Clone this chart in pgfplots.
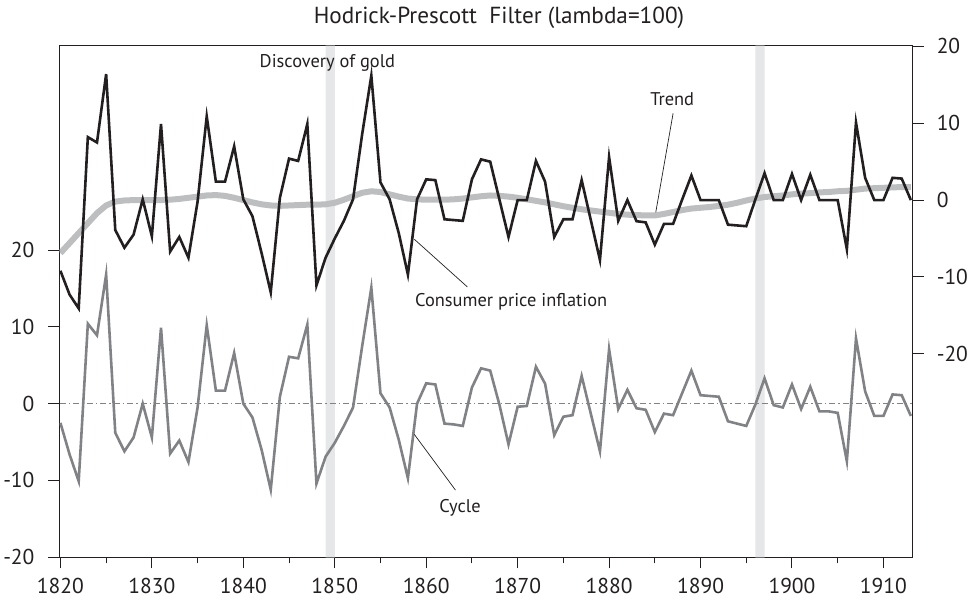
\documentclass[border=0pt]{standalone}
\usepackage{fontspec}
\setmainfont{PT Sans}
\usepackage{pgfplots}
\usepackage{pgfplotstable}
\pgfplotsset{compat=1.18}
\definecolor{bandgray}{HTML}{E6E7E8}
\definecolor{trendgray}{HTML}{BCBEC0}
\definecolor{cyclegray}{HTML}{808285}
\definecolor{inkblack}{HTML}{231F20}

\pgfplotstableread{
year infl trend cycle
1820 -9.2 -6.9 -2.5
1821 -12.3 -5.6 -6.6
1822 -14.1 -4.3 -10.1
1823 8.2 -3.0 10.4
1824 7.5 -1.7 8.9
1825 16.4 -0.7 16.8
1826 -3.9 -0.2 -3.8
1827 -6.2 -0.05 -6.2
1828 -4.5 0.0 -4.4
1829 0.1 0.0 0.0
1830 -4.7 0.0 -4.4
1831 9.9 0.0 9.9
1832 -6.7 0.05 -6.5
1833 -4.8 0.15 -4.8
1834 -7.5 0.3 -7.6
1835 -0.2 0.45 -0.5
1836 10.9 0.6 10.2
1837 2.4 0.65 1.7
1838 2.4 0.55 1.7
1839 7.0 0.3 6.6
1840 0.1 0.0 0.0
1841 -2.1 -0.3 -1.8
1842 -6.9 -0.55 -6.0
1843 -12.0 -0.7 -11.2
1844 0.3 -0.75 0.9
1845 5.4 -0.7 6.1
1846 5.1 -0.65 5.9
1847 9.9 -0.6 10.3
1848 -11.1 -0.6 -10.4
1849 -7.5 -0.55 -6.9
1850 -5.0 -0.35 -5.1
1851 -2.7 0.05 -2.9
1852 0.1 0.5 -0.5
1853 8.6 0.95 7.5
1854 16.2 1.15 15.1
1855 2.3 1.05 1.35
1856 0.1 0.75 -0.5
1857 -4.3 0.45 -4.7
1858 -9.7 0.2 -9.7
1859 0.1 0.1 0.0
1860 2.7 0.05 2.65
1861 2.6 0.05 2.5
1862 -2.5 0.05 -2.6
1863 -2.6 0.1 -2.7
1864 -2.7 0.2 -2.9
1865 2.7 0.35 2.1
1866 5.3 0.5 4.6
1867 5.0 0.6 4.3
1868 0.1 0.55 -0.1
1869 -4.8 0.45 -5.3
1870 0.0 0.3 -0.4
1871 0.0 0.1 -0.3
1872 5.1 -0.1 4.8
1873 2.4 -0.3 2.6
1874 -4.8 -0.55 -4.1
1875 -2.5 -0.8 -1.7
1876 -2.5 -1.0 -1.5
1877 2.6 -1.2 3.6
1878 -2.6 -1.35 -1.3
1879 -7.8 -1.5 -6.2
1880 5.6 -1.65 7.1
1881 -2.7 -1.8 -0.7
1882 0.0 -1.9 1.8
1883 -2.75 -1.95 -0.6
1884 -2.9 -2.0 -0.8
1885 -5.8 -2.0 -3.7
1886 -3.1 -1.8 -1.3
1887 -3.1 -1.55 -1.5
1888 0.1 -1.3 1.4
1889 3.2 -1.1 4.3
1890 0.0 -1.0 1.1
1891 0.0 -0.9 1.0
1892 0.0 -0.75 0.9
1893 -3.2 -0.6 -2.3
1894 -3.3 -0.35 -2.6
1895 -3.4 -0.05 -2.9
1896 0.1 0.2 -0.1
1897 3.5 0.4 3.3
1898 0.0 0.5 -0.2
1899 0.0 0.6 -0.5
1900 3.4 0.75 2.5
1901 0.0 0.85 -0.7
1902 3.3 0.9 2.2
1903 0.0 1.0 -1.0
1904 0.0 1.05 -1.0
1905 0.0 1.15 -1.2
1906 -6.4 1.2 -7.5
1907 10.1 1.35 8.5
1908 2.9 1.5 1.6
1909 0.0 1.55 -1.6
1910 0.0 1.6 -1.6
1911 2.9 1.65 1.2
1912 2.8 1.7 1.1
1913 0.0 1.7 -1.6
}\datatable

\pgfplotsset{
  mystyle/.style={
    scale only axis,
    width=426.6pt, height=255.8pt,
    at={(0pt,0pt)}, anchor=south west,
    xmin=1819.9, xmax=1913.2,
    axis line style={line width=0.5pt, inkblack},
    tick style={line width=0.5pt, inkblack},
    tick align=outside,
    major tick length=5.5pt,
    minor tick length=3pt,
    tick label style={font=\fontsize{10.75}{12}\selectfont, text=inkblack},
  }
}
\newcommand{\annfont}{\fontsize{9.2}{11}\selectfont}

\begin{document}
\begin{tikzpicture}
\useasboundingbox (-29.75pt,-22.85pt) rectangle (455.25pt,278.65pt);
\begin{axis}[mystyle,
  ymin=-20, ymax=46.6,
  xtick={1820,1830,...,1910},
  xticklabels={1820,1830,1840,1850,1860,1870,1880,1890,1900,1910},
  minor xtick={1825,1835,...,1905},
  xtick pos=left,
  xticklabel style={yshift=-3.8pt, inner ysep=1pt},
  ytick={-20,-10,0,10,20},
  yticklabels={-20,-10,0,10,20},
  yticklabel style={xshift=-3.5pt},
  ytick pos=left,
  clip=true,
]
\addplot[fill=bandgray, draw=none] coordinates {(1849,-20) (1849,46.6) (1850,46.6) (1850,-20) (1849,-20)};
\addplot[fill=bandgray, draw=none] coordinates {(1896,-20) (1896,46.6) (1897,46.6) (1897,-20) (1896,-20)};
\addplot[cyclegray, line width=0.5pt, dash pattern=on 3pt off 1.5pt on 0.75pt off 1.5pt] coordinates {(1819.9,0) (1913.2,0)};
\addplot[cyclegray, line width=1.3pt] table[x=year, y=cycle] {\datatable};
\node[font=\annfont, text=inkblack] at (axis cs:1849.2,44.4) {Discovery of gold};
\node[font=\annfont, text=inkblack] at (axis cs:1886.9,39.6) {Trend};
\draw[inkblack, line width=0.35pt] (axis cs:1887.0,37.8) -- (axis cs:1885.0,24.2);
\node[font=\annfont, text=inkblack] at (axis cs:1869.3,13.2) {Consumer price inflation};
\draw[inkblack, line width=0.35pt] (axis cs:1858.7,21.4) -- (axis cs:1864.5,15.2);
\node[font=\annfont, text=inkblack] at (axis cs:1863.7,-13.6) {Cycle};
\draw[inkblack, line width=0.35pt] (axis cs:1858.7,-4.0) -- (axis cs:1863.2,-11.25);
\end{axis}
\begin{axis}[mystyle,
  ymin=-46.5, ymax=20.1,
  axis x line=none,
  axis y line*=right,
  ytick={-20,-10,0,10,20},
  yticklabels={-20,-10,0,10,20},
  yticklabel style={xshift=3pt},
  ytick pos=right,
]
\addplot[trendgray, line width=3pt] table[x=year, y=trend] {\datatable};
\addplot[inkblack, line width=1.3pt] table[x=year, y=infl] {\datatable};
\end{axis}
\node[font=\fontsize{11.6}{13}\selectfont, text=inkblack] at (219.75pt,269.9pt) {Hodrick-Prescott\ \ Filter (lambda=100)};
\end{tikzpicture}
\end{document}
